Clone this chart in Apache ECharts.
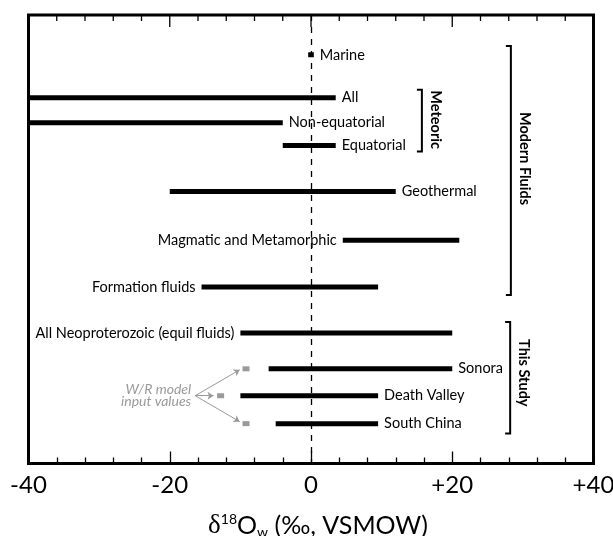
<!DOCTYPE html>
<html>
<head>
<meta charset="utf-8">
<script src="https://cdn.jsdelivr.net/npm/echarts@6/dist/echarts.min.js"></script>
<style>
  html, body { margin: 0; padding: 0; background: #fff; }
  #chart { width: 613px; height: 536px; }
</style>
</head>
<body>
<div id="chart"></div>
<script>
// δ18O ranges of fluid reservoirs (‰, VSMOW)
const rowNames = ['Marine', 'All', 'Non-equatorial', 'Equatorial', 'Geothermal',
  'Magmatic and Metamorphic', 'Formation fluids', 'All Neoproterozoic (equil fluids)',
  'Sonora', 'Death Valley', 'South China'];
const rangeLow  = [-0.4, -40, -40, -4, -20, 4.5, -15.5, -10, -6, -10, -5];
const rangeHigh = [0.4, 3.5, -4, 3.5, 12, 21, 9.5, 20, 20, 9.5, 9.5];
// vertical slot of each row (hidden axis, top = 0)
const rowPos = [4.0, 8.3, 10.8, 13.1, 17.7, 22.6, 27.3, 31.9, 35.5, 38.2, 41.0];
const labelSide = ['right', 'right', 'right', 'right', 'right', 'left', 'left', 'left', 'right', 'right', 'right'];

// water/rock model input values
const modelInput = [-9.2, -12.8, -9.2];
const modelRows = [35.5, 38.2, 41.0];
const noteText = 'W/R model\ninput values';
const noteAnchor = [-16.4, 38.2];
const arrowEnds = [[-10.1, 35.6], [-13.8, 38.2], [-10.1, 40.8]];

// group brackets
const groupNames = ['Meteoric', 'Modern Fluids', 'This Study'];
const groupX = [15.7, 28.3, 28.2];
const groupTop = [7.5, 3.1, 30.8];
const groupBottom = [13.7, 28.1, 42.0];
const groupLabelRow = [10.5, 14.4, 35.9];

// x axis
const xTickLabels = ['-40', '-20', '0', '+20', '+40'];
// tick positions repeated along the upper frame edge
const upperTicks = [-40, -36, -32, -28, -24, -20, -16, -12, -8, -4, 0,
  4, 8, 12, 16, 20, 24, 28, 32, 36, 40];

const FONT = 'Lato';
const chart = echarts.init(document.getElementById('chart'));

const rangeData = rowNames.map((n, i) => [rangeLow[i], rangeHigh[i], rowPos[i]]);
const modelData = modelInput.map((v, i) => [v, modelRows[i]]);
const groupData = groupNames.map((n, i) => [groupX[i], groupTop[i], groupBottom[i], groupLabelRow[i]]);
const upperTickData = upperTicks.map(v => [v, 0]);

const tickStyle = { color: '#000', width: 1.3 };

chart.setOption({
  animation: false,
  backgroundColor: '#fff',
  grid: {
    left: 28.5, top: 15, width: 565, height: 448.5,
    outerBoundsMode: 'none', containLabel: false,
    show: true, borderWidth: 3, borderColor: '#000', backgroundColor: 'transparent'
  },
  xAxis: {
    type: 'value', min: -40, max: 40, interval: 20, position: 'bottom',
    axisLine: { show: true, onZero: false, lineStyle: { color: '#000', width: 3 } },
    axisTick: { show: true, inside: true, length: 12, lineStyle: tickStyle },
    minorTick: { show: true, splitNumber: 5, length: 6, lineStyle: tickStyle },
    splitLine: { show: false },
    minorSplitLine: { show: false },
    axisLabel: {
      show: true, margin: 10, color: '#000', fontFamily: FONT, fontSize: 24,
      formatter: (v, idx) => xTickLabels[idx]
    },
    name: '{d|δ}{sup|18}{o|O}{sub|w}{o| (‰, VSMOW)}',
    nameLocation: 'middle', nameGap: 48,
    nameTextStyle: {
      padding: [0, 0, 0, 14],
      rich: {
        d: { fontFamily: 'Liberation Serif', fontSize: 27, color: '#000' },
        o: { fontFamily: FONT, fontSize: 25, color: '#000' },
        sup: { fontFamily: FONT, fontSize: 14, color: '#000', padding: [0, 0, 12, 0] },
        sub: { fontFamily: FONT, fontSize: 14, color: '#000', padding: [14, 0, 0, 0] }
      }
    }
  },
  yAxis: { type: 'value', min: 0, max: 45, inverse: true, show: false },
  series: [
    {
      // reservoir ranges with their names
      type: 'custom',
      data: rangeData,
      clip: true,
      renderItem: (params, api) => {
        const i = params.dataIndex;
        const lo = api.coord([api.value(0), api.value(2)]);
        const hi = api.coord([api.value(1), api.value(2)]);
        const h = 5;
        const right = labelSide[i] === 'right';
        return {
          type: 'group',
          children: [
            { type: 'rect', shape: { x: lo[0], y: lo[1] - h / 2, width: hi[0] - lo[0], height: h },
              style: { fill: '#000' } },
            { type: 'text', x: right ? hi[0] + 6 : lo[0] - 6, y: lo[1],
              style: { text: rowNames[i], align: right ? 'left' : 'right', verticalAlign: 'middle',
                fontFamily: FONT, fontSize: 14.5, fill: '#000' } }
          ]
        };
      },
      markLine: {
        silent: true, symbol: 'none', label: { show: false },
        lineStyle: { color: '#000', width: 1.3, type: [6, 6] },
        data: [{ xAxis: 0 }]
      }
    },
    {
      // inward ticks along the upper frame edge
      type: 'custom',
      data: upperTickData,
      clip: false,
      silent: true,
      renderItem: (params, api) => {
        const v = api.value(0);
        const p = api.coord([v, api.value(1)]);
        const len = v % 20 === 0 ? 12 : 6;
        return { type: 'line', shape: { x1: p[0], y1: p[1], x2: p[0], y2: p[1] + len },
          style: { stroke: '#000', lineWidth: 1.3 } };
      }
    },
    {
      // model input values
      type: 'custom',
      data: modelData,
      renderItem: (params, api) => {
        const p = api.coord([api.value(0), api.value(1)]);
        return { type: 'rect', shape: { x: p[0] - 3.5, y: p[1] - 2.5, width: 7, height: 5 },
          style: { fill: '#9a9a9a' } };
      }
    },
    {
      // arrows from the note to the model input values
      type: 'lines',
      coordinateSystem: 'cartesian2d',
      symbol: ['none', 'arrow'],
      symbolSize: 6,
      lineStyle: { color: '#9a9a9a', width: 1, opacity: 1 },
      data: arrowEnds.map(e => ({ coords: [noteAnchor, e] }))
    },
    {
      // note text
      type: 'custom',
      data: [noteAnchor],
      renderItem: (params, api) => {
        const p = api.coord([api.value(0), api.value(1)]);
        return { type: 'text', x: p[0] - 4, y: p[1],
          style: { text: noteText, align: 'right', verticalAlign: 'middle', lineHeight: 12,
            fontFamily: FONT, fontStyle: 'italic', fontSize: 14, fill: '#9a9a9a' } };
      }
    },
    {
      // group brackets
      type: 'custom',
      data: groupData,
      renderItem: (params, api) => {
        const i = params.dataIndex;
        const t = api.coord([api.value(0), api.value(1)]);
        const b = api.coord([api.value(0), api.value(2)]);
        const m = api.coord([api.value(0), api.value(3)]);
        return {
          type: 'group',
          children: [
            { type: 'polyline', shape: { points: [[t[0] - 5, t[1]], [t[0], t[1]], [b[0], b[1]], [b[0] - 5, b[1]]] },
              style: { stroke: '#000', lineWidth: 2, fill: null } },
            { type: 'text', x: m[0] + 14, y: m[1], rotation: -Math.PI / 2,
              style: { text: groupNames[i], align: 'center', verticalAlign: 'middle',
                fontFamily: FONT, fontWeight: 'bold', fontSize: 14.5, fill: '#000' } }
          ]
        };
      }
    }
  ]
});
</script>
</body>
</html>
